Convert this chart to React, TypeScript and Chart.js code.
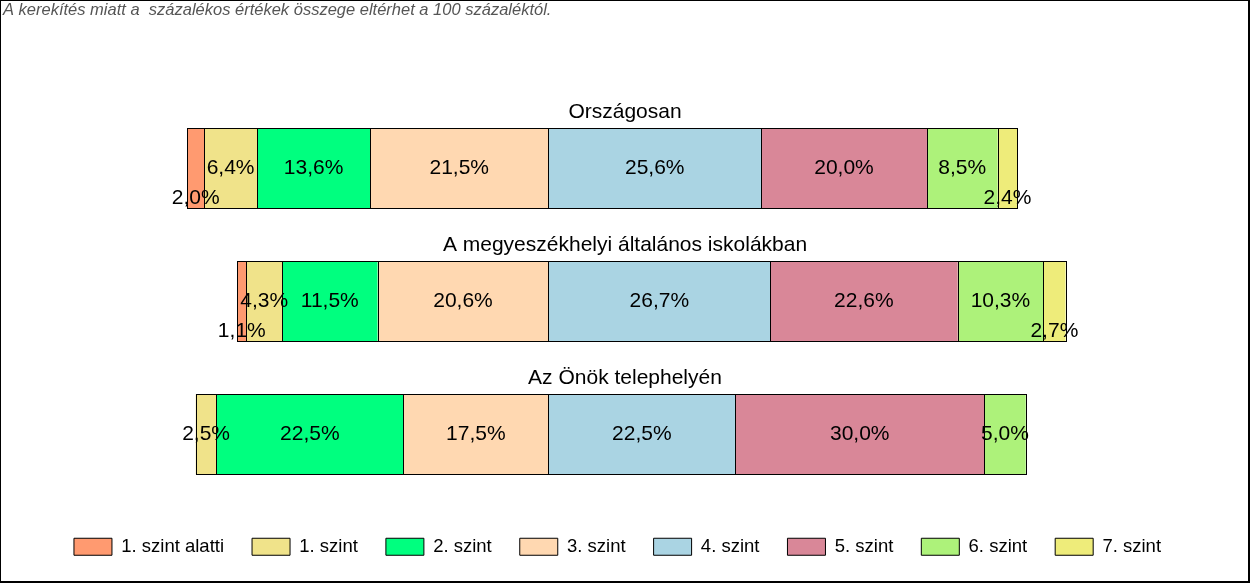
import React, { useEffect, useRef } from 'react';
import { Chart, registerables } from 'chart.js';

Chart.register(...registerables);

// ---------- data ----------
const NOTE = 'A kerekítés miatt a  százalékos értékek összege eltérhet a 100 százaléktól.';
const GROUPS = ['Országosan', 'A megyeszékhelyi általános iskolákban', 'Az Önök telephelyén'];
const LEVELS = ['1. szint alatti', '1. szint', '2. szint', '3. szint', '4. szint', '5. szint', '6. szint', '7. szint'];
const NATIONAL = [2.0, 6.4, 13.6, 21.5, 25.6, 20.0, 8.5, 2.4];
const COUNTY_SEAT = [1.1, 4.3, 11.5, 20.6, 26.7, 22.6, 10.3, 2.7];
const SITE = [0, 2.5, 22.5, 17.5, 22.5, 30.0, 5.0, 0];
const LOWER_LEVELS = 4; // levels placed left of the centre line

// ---------- styles ----------
const COLORS = ['#FF9A70', '#F0E38A', '#00FF7F', '#FFD8B1', '#AAD4E3', '#D98798', '#ADF27A', '#EEEC7A'];
const FONT = '"Liberation Sans", Arial, sans-serif';
const AXIS_MIN = -65.72;
const AXIS_MAX = 82.35;

const ROWS = [NATIONAL, COUNTY_SEAT, SITE];

const fmt = (v: number) => v.toFixed(1).replace('.', ',') + '%';

function buildDatasets() {
  const ranges = ROWS.map((row) => {
    const low = row.slice(0, LOWER_LEVELS).reduce((a, b) => a + b, 0);
    let cum = -low;
    return row.map((v) => {
      const s = cum;
      cum += v;
      return v > 0 ? [s, s + v] : null;
    });
  });
  return LEVELS.map((label, k) => ({
    label,
    data: ranges.map((r) => r[k]),
    backgroundColor: COLORS[k],
    borderColor: '#000000',
    borderWidth: 0,
    inflateAmount: 0,
    grouped: false,
  }));
}

const labelPlugin = {
  id: 'segmentLabels',
  afterDatasetsDraw(chart: any) {
    const ctx = chart.ctx;
    ctx.save();
    // crisp 1px outlines of every segment
    ctx.strokeStyle = '#000';
    ctx.lineWidth = 1;
    chart.data.datasets.forEach((_ds: any, di: number) => {
      const meta = chart.getDatasetMeta(di);
      meta.data.forEach((el: any, i: number) => {
        const v = ROWS[i][di];
        if (!v) return;
        const p = el.getProps(['x', 'y', 'base', 'height'], true);
        const l = Math.round(Math.min(p.x, p.base));
        const r = Math.round(Math.max(p.x, p.base));
        const t = Math.round(p.y - p.height / 2);
        const b = Math.round(p.y + p.height / 2);
        ctx.strokeRect(l + 0.5, t + 0.5, r - l, b - t);
      });
    });

    ctx.fillStyle = '#000';
    ctx.textAlign = 'center';
    ctx.font = `21px ${FONT}`;
    ctx.textBaseline = 'middle';
    chart.data.datasets.forEach((_ds: any, di: number) => {
      const meta = chart.getDatasetMeta(di);
      meta.data.forEach((el: any, i: number) => {
        const v = ROWS[i][di];
        if (!v) return;
        const p = el.getProps(['x', 'y', 'base'], true);
        const cx = (p.x + p.base) / 2;
        const dy = di === 0 || di === LEVELS.length - 1 ? 30 : 0;
        ctx.fillText(fmt(v), cx, p.y + dy);
      });
    });
    // group titles above each bar
    ctx.textBaseline = 'alphabetic';
    const refMeta = chart.getDatasetMeta(4);
    GROUPS.forEach((g, i) => {
      const el = refMeta.data[i];
      const p = el.getProps(['y', 'height'], true);
      ctx.fillText(g, chart.width / 2, p.y - p.height / 2 - 10);
    });
    ctx.restore();
  },
};

const framePlugin = {
  id: 'frame',
  afterDraw(chart: any) {
    const ctx = chart.ctx;
    const w = chart.width;
    const h = chart.height;
    ctx.save();
    ctx.fillStyle = '#000';
    ctx.fillRect(0, 0, w, 1);
    ctx.fillRect(0, 0, 1, h);
    ctx.fillRect(w - 2, 0, 2, h);
    ctx.fillRect(0, h - 2, w, 2);
    ctx.restore();
  },
};

export default function App() {
  const ref = useRef<HTMLCanvasElement | null>(null);

  useEffect(() => {
    if (!ref.current) return;
    Chart.defaults.font.family = FONT;
    const baseLabels = Chart.defaults.plugins.legend.labels.generateLabels;
    const chart = new Chart(ref.current, {
      type: 'bar',
      data: { labels: GROUPS, datasets: buildDatasets() as any },
      options: {
        animation: false,
        responsive: true,
        maintainAspectRatio: false,
        indexAxis: 'y',
        layout: { padding: { left: 3, right: 18, top: 0, bottom: 17 } },
        datasets: { bar: { barPercentage: 0.6015, categoryPercentage: 1 } },
        scales: {
          y: { display: false },
          x: {
            type: 'linear',
            min: AXIS_MIN,
            max: AXIS_MAX,
            display: true,
            grid: { display: false, drawTicks: true, tickLength: 8.5 },
            ticks: { display: false },
            border: { display: false },
          },
        },
        plugins: {
          tooltip: { enabled: false },
          title: {
            display: true,
            text: NOTE,
            align: 'start',
            color: '#555555',
            font: { family: FONT, size: 16.5, style: 'italic', weight: 'normal', lineHeight: 1.2 },
            padding: { top: 1, bottom: 80.7 },
          },
          legend: {
            display: true,
            position: 'bottom',
            labels: {
              color: '#000',
              font: { family: FONT, size: 18.5 },
              boxWidth: 38,
              boxHeight: 17,
              padding: 28,
              generateLabels: (c: any) =>
                baseLabels(c).map((l: any) => ({ ...l, lineWidth: 1, strokeStyle: '#000000' })),
            },
          },
        },
      },
      plugins: [labelPlugin, framePlugin],
    });
    return () => chart.destroy();
  }, []);

  return (
    <div style={{ position: 'fixed', left: 0, top: 0, width: 1250, height: 583, background: '#fff' }}>
      <canvas ref={ref} />
    </div>
  );
}
